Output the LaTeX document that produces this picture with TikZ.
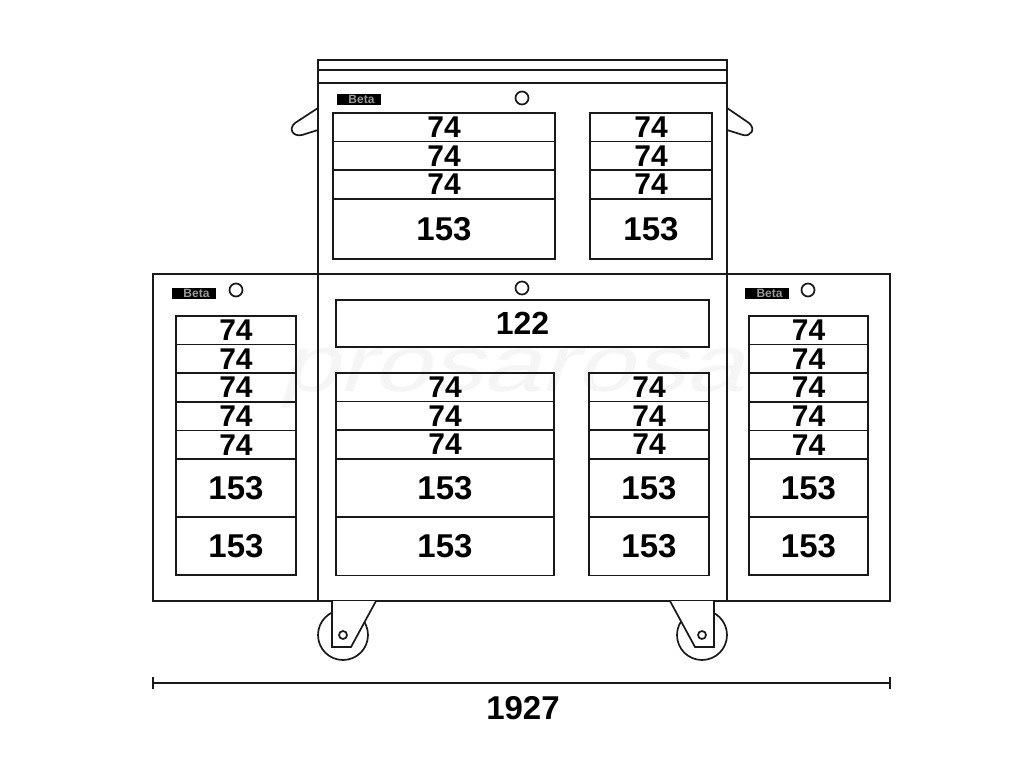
\documentclass[tikz,border=0pt]{standalone}
\usepackage{fontspec}
\setmainfont{Liberation Sans}
\usetikzlibrary{calc, positioning}
\definecolor{lineink}{gray}{0.1}
\tikzstyle{every picture}=[x=1pt,y=-1pt]
\tikzstyle{outline}=[draw=lineink,line width=1.7pt,outer sep=0pt]
\tikzstyle{drawer}=[outline,inner sep=0pt,text=black,anchor=north west]
\tikzstyle{small drawer}=[drawer,font=\bfseries\fontsize{30}{30}\selectfont]
\tikzstyle{big drawer}=[drawer,font=\bfseries\fontsize{33}{33}\selectfont]
\tikzstyle{knob}=[circle,outline,fill=white,minimum size=13pt,inner sep=0pt]
\tikzstyle{pivot}=[circle,outline,fill=white,minimum size=8pt,inner sep=0pt]
\tikzstyle{tyre}=[circle,outline,fill=white,minimum size=50pt,inner sep=0pt]
\tikzstyle{brand}=[fill=black,text=black!40,inner sep=0pt,minimum width=44pt,minimum height=11pt,align=right,text width=31pt,font=\bfseries\fontsize{12}{12}\selectfont]
\newcommand{\smalldrawers}[5]{% prefix, x, width, first y, count
	\foreach \y in {1,...,#5}
	\node[small drawer, minimum width=#3pt, minimum height=28.6pt] (#1-\y) at (#2, {#4 + 28.6*(\y-1)}) {74};
}
\begin{document}
\begin{tikzpicture}
	\useasboundingbox (0,0) rectangle (1024,768);

	% Faint mark behind the drawers
	\node[text=black!4,font=\fontsize{80}{80}\selectfont,xscale=1.3,xslant=0.25] (mark) at (515,378) {prosarosa};

	% Handles and wheels go behind the body
	\draw[outline,fill=white] (318,108) -- (295,123) .. controls (288,129) and (293,137) .. (302,135) -- (318,130);
	\draw[outline,fill=white] (727,108) -- (749,123) .. controls (756,129) and (751,137) .. (743,135) -- (727,130);
	\node[tyre] (wheel-l) at (343,635) {};
	\node[tyre] (wheel-r) at (702,635) {};

	% Body of the trolley
	\node[outline,anchor=north west,minimum width=409pt,minimum height=541pt,inner sep=0pt] (body) at (318,60) {};
	\node[outline,anchor=north west,minimum width=165pt,minimum height=327pt,inner sep=0pt] (side-l) at (153,274) {};
	\node[outline,anchor=north west,minimum width=163pt,minimum height=327pt,inner sep=0pt] (side-r) at (727,274) {};
	\coordinate (top-1) at (318,70);
	\coordinate (top-1e) at (727,70);
	\coordinate (top-2) at (318,83);
	\coordinate (top-2e) at (727,83);
	\draw[outline] (top-1) -- (top-1e);
	\draw[outline] (top-2) -- (top-2e);
	\draw[outline] (side-l.north east) -- (side-r.north west);

	% Top drawers
	\smalldrawers{TL}{333}{222}{113}{3}
	\node[big drawer, minimum width=222pt, minimum height=60pt] (TL-4) at (333,199) {153};
	\smalldrawers{TR}{590}{122}{113}{3}
	\node[big drawer, minimum width=122pt, minimum height=60pt] (TR-4) at (590,199) {153};

	% Middle drawers
	\node[big drawer, font=\bfseries\fontsize{32}{32}\selectfont, minimum width=373pt, minimum height=47pt] (wide) at (336,300) {122};
	\smalldrawers{ML}{336}{218}{373}{3}
	\smalldrawers{MR}{589}{120}{373}{3}
	\foreach \name / \y in {4/458.5,5/517}
	{
		\node[big drawer, minimum width=218pt, minimum height=58.5pt] (ML-\name) at (336,\y) {153};
		\node[big drawer, minimum width=120pt, minimum height=58.5pt] (MR-\name) at (589,\y) {153};
	}

	% Side drawers
	\smalldrawers{SL}{176}{120}{316}{5}
	\smalldrawers{SR}{749}{119}{316}{5}
	\foreach \name / \y in {6/459,7/517}
	{
		\node[big drawer, minimum width=120pt, minimum height=58pt] (SL-\name) at (176,\y) {153};
		\node[big drawer, minimum width=119pt, minimum height=58pt] (SR-\name) at (749,\y) {153};
	}

	% Locks and logos
	\node[knob] (lock-1) at (522,98) {};
	\node[knob] (lock-2) at (522,288) {};
	\node[knob] (lock-3) at (236,290) {};
	\node[knob] (lock-4) at (808,290) {};
	\node[brand] (logo-1) at (359,99) {Beta};
	\node[brand] (logo-2) at (194,293) {Beta};
	\node[brand] (logo-3) at (767,293) {Beta};

	% Castors
	\coordinate (fork-l) at (332,601);
	\coordinate (tip-l) at (376,601);
	\coordinate (fork-r) at (714,601);
	\coordinate (tip-r) at (670,601);
	\draw[outline,fill=white] (fork-l) -- (332,647) -- (351,647) -- (tip-l);
	\draw[outline,fill=white] (fork-r) -- (714,647) -- (695,647) -- (tip-r);
	\node[pivot] (pin-l) at (343,635) {};
	\node[pivot] (pin-r) at (702,635) {};

	% Overall width
	\coordinate (dim-l) at (153,683);
	\coordinate (dim-r) at (890,683);
	\draw[outline] (dim-l) -- (dim-r);
	\draw[outline] ($(dim-l)+(0,-6)$) -- ($(dim-l)+(0,6)$);
	\draw[outline] ($(dim-r)+(0,-6)$) -- ($(dim-r)+(0,6)$);
	\node[font=\bfseries\fontsize{33}{33}\selectfont,text=black] (width) at (523,708) {1927};
\end{tikzpicture}
\end{document}
